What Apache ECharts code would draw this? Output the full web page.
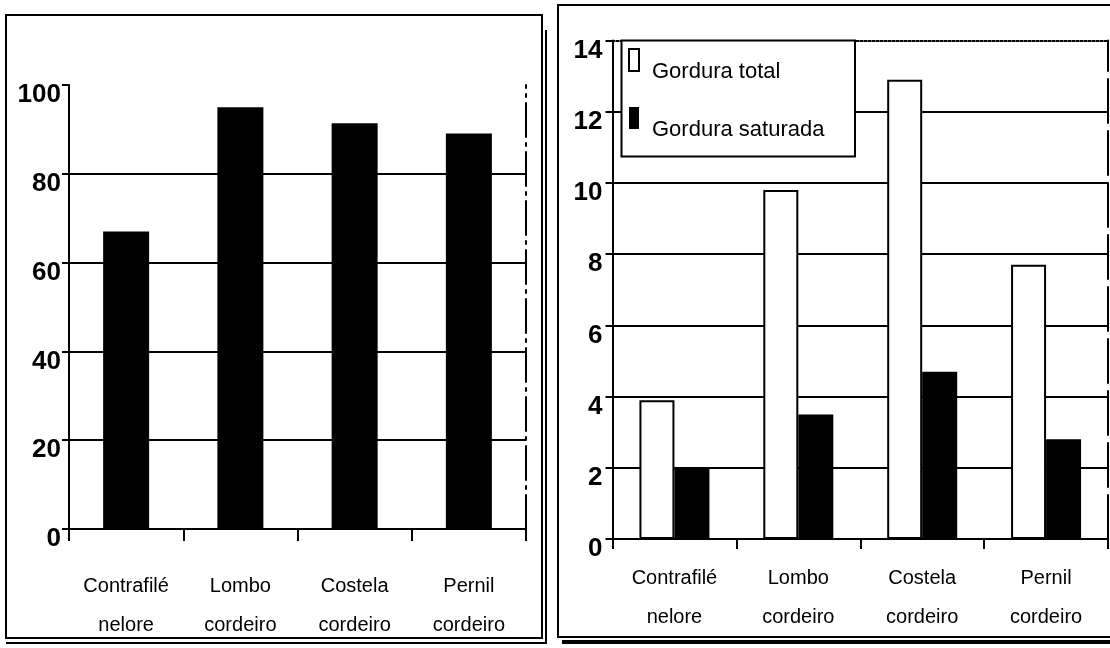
<!DOCTYPE html>
<html>
<head>
<meta charset="utf-8">
<title>Contrafilé x cordeiro</title>
<script src="https://cdn.jsdelivr.net/npm/echarts@6/dist/echarts.min.js"></script>
<style>
  html, body { margin: 0; padding: 0; background: #fff; }
  #chart { width: 1110px; height: 648px; }
</style>
</head>
<body>
<div id="chart"></div>
<script>
// Cuts compared in both panels
const categories = ['Contrafilé\nnelore', 'Lombo\ncordeiro', 'Costela\ncordeiro', 'Pernil\ncordeiro'];

// Left panel: single black series (0–100 scale)
const leftValues = [67, 95, 91.4, 89.1];
const leftTicks = [0, 20, 40, 60, 80, 100];

// Right panel: fat content
const seriesNames = ['Gordura total', 'Gordura saturada'];
const gorduraTotal = [3.9, 9.8, 12.9, 7.7];
const gorduraSaturada = [2.0, 3.5, 4.7, 2.8];
const rightTicks = [0, 2, 4, 6, 8, 10, 12, 14];

const SANS = '"Liberation Sans", Arial, sans-serif';
const INK = '#000';

const chart = echarts.init(document.getElementById('chart'), null, { renderer: 'canvas' });

function valueAxis(grid, ticks, margin) {
  return {
    type: 'value', gridIndex: grid,
    min: ticks[0], max: ticks[ticks.length - 1], interval: ticks[1] - ticks[0],
    axisLine: { show: true, lineStyle: { color: INK, width: 2 } },
    axisTick: { show: true, length: 7, inside: false, lineStyle: { color: INK, width: 2 } },
    axisLabel: {
      color: INK, fontFamily: SANS, fontWeight: 'bold', fontSize: 26,
      margin: margin, verticalAlign: 'top', lineHeight: 20
    },
    splitLine: { show: true, showMinLine: false, showMaxLine: false, lineStyle: { color: INK, width: 2 } }
  };
}

function catAxis(grid, margin, tickLen) {
  return {
    type: 'category', gridIndex: grid, data: categories, position: 'bottom',
    axisLine: { show: true, onZero: false, lineStyle: { color: INK, width: 2 } },
    axisTick: { show: true, alignWithLabel: false, length: tickLen, lineStyle: { color: INK, width: 2 } },
    axisLabel: {
      color: INK, fontFamily: SANS, fontSize: 20, lineHeight: 39,
      margin: margin, interval: 0
    },
    splitLine: { show: false }
  };
}

const option = {
  backgroundColor: '#fff',
  animation: false,
  grid: [
    { left: 69, top: 85, width: 457, height: 444 },
    { left: 612.5, top: 40.5, width: 495.5, height: 498.5 }
  ],
  xAxis: [
    catAxis(0, 38, 12),
    catAxis(1, 20, 10),
    {
      // dotted upper boundary of the right plot
      type: 'category', gridIndex: 1, data: categories, position: 'top',
      axisLine: { show: true, onZero: false, lineStyle: { color: INK, width: 2, type: [2, 2] } },
      axisTick: { show: false }, axisLabel: { show: false }, splitLine: { show: false }
    }
  ],
  yAxis: [
    valueAxis(0, leftTicks, 8),
    {
      // dash-dot right boundary of the left plot
      type: 'value', gridIndex: 0, position: 'right',
      min: leftTicks[0], max: leftTicks[leftTicks.length - 1],
      axisLine: { show: true, lineStyle: { color: INK, width: 2, type: [34, 6, 3, 6] } },
      axisTick: { show: false }, axisLabel: { show: false }, splitLine: { show: false }
    },
    valueAxis(1, rightTicks, 10),
    {
      // dashed right boundary of the right plot
      type: 'value', gridIndex: 1, position: 'right',
      min: rightTicks[0], max: rightTicks[rightTicks.length - 1],
      axisLine: { show: true, lineStyle: { color: INK, width: 2, type: [44, 8] } },
      axisTick: { show: false }, axisLabel: { show: false }, splitLine: { show: false }
    }
  ],
  legend: {
    show: true, orient: 'vertical',
    left: 628, top: 48, padding: 0,
    itemWidth: 10, itemHeight: 22, itemGap: 24,
    icon: 'rect',
    formatter: '{t|{name}}',
    textStyle: {
      color: INK, fontFamily: SANS, fontSize: 22,
      rich: { t: { fontFamily: SANS, fontSize: 22, color: INK, padding: [24, 0, 0, 8] } }
    },
    data: [
      { name: seriesNames[0], itemStyle: { color: '#fff', borderColor: INK, borderWidth: 2 } },
      { name: seriesNames[1], itemStyle: { color: INK, borderColor: INK, borderWidth: 0 } }
    ],
    selectedMode: false, z: 6
  },
  graphic: [
    // panel frames
    { type: 'rect', z: 1, shape: { x: 6, y: 15, width: 536, height: 623 },
      style: { fill: 'none', stroke: INK, lineWidth: 2 } },
    { type: 'line', z: 1, shape: { x1: 546, y1: 30, x2: 546, y2: 644 },
      style: { stroke: INK, lineWidth: 2 } },
    { type: 'line', z: 1, shape: { x1: 6, y1: 643, x2: 546, y2: 643 },
      style: { stroke: INK, lineWidth: 2 } },
    { type: 'rect', z: 1, shape: { x: 558, y: 5, width: 560, height: 632 },
      style: { fill: 'none', stroke: INK, lineWidth: 2 } },
    { type: 'line', z: 1, shape: { x1: 562, y1: 642, x2: 1112, y2: 642 },
      style: { stroke: INK, lineWidth: 4 } },
    // legend box
    { type: 'rect', z: 5, shape: { x: 621.5, y: 40.5, width: 233.5, height: 116 },
      style: { fill: '#fff', stroke: INK, lineWidth: 2 } }
  ],
  series: [
    {
      name: 'Contrafilé x cordeiro', type: 'bar', xAxisIndex: 0, yAxisIndex: 0,
      data: leftValues, barWidth: 46,
      itemStyle: { color: INK }
    },
    {
      name: seriesNames[0], type: 'bar', xAxisIndex: 1, yAxisIndex: 2,
      data: gorduraTotal, barWidth: 35, barGap: '0%',
      itemStyle: { color: '#fff', borderColor: INK, borderWidth: 2 }
    },
    {
      name: seriesNames[1], type: 'bar', xAxisIndex: 1, yAxisIndex: 2,
      data: gorduraSaturada, barWidth: 35, barGap: '0%',
      itemStyle: { color: INK }
    }
  ]
};

chart.setOption(option);
</script>
</body>
</html>
